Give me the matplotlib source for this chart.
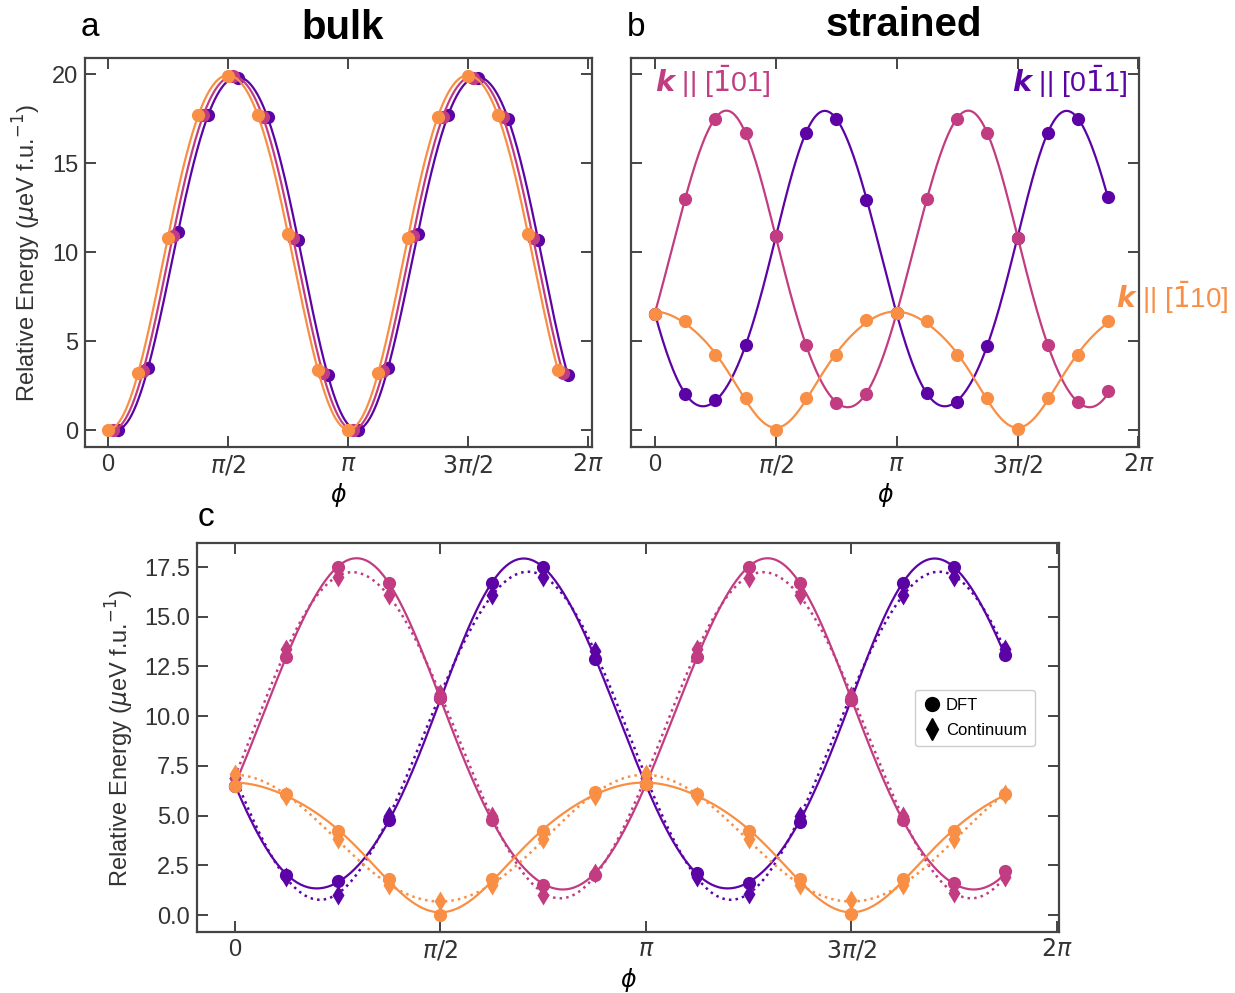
import numpy as np
import matplotlib
matplotlib.use("Agg")
import matplotlib.pyplot as plt
from matplotlib.lines import Line2D

plt.rcParams['font.family'] = ['Liberation Sans', 'DejaVu Sans']
plt.rcParams['mathtext.fontset'] = 'dejavusans'

PURPLE = '#5c03a5'
MAGENTA = '#c23c82'
ORANGE = '#f88f45'

# ---- panel a: bulk (angles in degrees)
phi_a_orange = [0, 22.5, 45, 67.5, 90, 112.5, 135, 157.5, 180, 202.5, 225, 247.5, 270, 292.5, 315, 337.5]
phi_a_magenta = [3.75, 26.25, 48.75, 71.25, 93.75, 116.25, 138.75, 161.25, 183.75, 206.25, 228.75, 251.25,
                 273.75, 296.25, 318.75, 341.25]
phi_a_purple = [7.5, 30, 52.5, 75, 97.5, 120, 142.5, 165, 187.5, 210, 232.5, 255, 277.5, 300, 322.5, 345]
E_a_orange = [0.0, 3.2, 10.8, 17.7, 19.9, 17.7, 11.0, 3.4, 0.0, 3.2, 10.8, 17.6, 19.9, 17.7, 11.0, 3.4]
E_a_magenta = [0.0, 3.3, 10.9, 17.7, 19.9, 17.6, 10.8, 3.2, 0.0, 3.3, 10.9, 17.6, 19.8, 17.6, 10.8, 3.2]
E_a_purple = [0.0, 3.5, 11.1, 17.7, 19.8, 17.6, 10.7, 3.1, 0.0, 3.5, 11.0, 17.7, 19.8, 17.5, 10.7, 3.1]

# ---- panels b, c: strained
phi_s = [0, 22.5, 45, 67.5, 90, 112.5, 135, 157.5, 180, 202.5, 225, 247.5, 270, 292.5, 315, 337.5]
dft_purple = [6.5, 2.0, 1.7, 4.8, 10.9, 16.7, 17.5, 12.9, 6.6, 2.1, 1.6, 4.7, 10.8, 16.7, 17.5, 13.1]
dft_magenta = [6.5, 13.0, 17.5, 16.7, 10.9, 4.8, 1.5, 2.0, 6.6, 13.0, 17.5, 16.7, 10.8, 4.8, 1.6, 2.2]
dft_orange = [6.5, 6.1, 4.2, 1.8, 0.0, 1.8, 4.2, 6.2, 6.6, 6.1, 4.2, 1.8, 0.05, 1.8, 4.2, 6.1]
cont_purple = [6.9, 1.9, 1.0, 5.0, 11.1, 16.1, 17.0, 13.3, 6.9, 1.9, 1.05, 5.0, 11.0, 16.1, 17.0, 13.4]
cont_magenta = [6.9, 13.4, 17.0, 16.1, 11.1, 5.0, 1.0, 2.1, 6.9, 13.4, 16.95, 16.1, 11.0, 5.0, 1.1, 1.9]
cont_orange = [7.1, 6.0, 3.8, 1.5, 0.7, 1.5, 3.8, 6.0, 7.1, 6.0, 3.8, 1.5, 0.75, 1.5, 3.8, 6.1]


def fourier_fit(phi_deg, E, nh=3, n=400):
    # least-squares fit with even harmonics cos/sin(2m phi)
    phi = np.radians(phi_deg)
    E = np.asarray(E)

    def design(p):
        cols = [np.ones_like(p)]
        for m in range(1, nh + 1):
            cols.append(np.cos(2 * m * p))
            cols.append(np.sin(2 * m * p))
        return np.column_stack(cols)

    coef, *_ = np.linalg.lstsq(design(phi), E, rcond=None)
    pf = np.linspace(phi.min(), phi.max(), n)
    return pf, design(pf) @ coef


def style_axes(ax):
    for s in ax.spines.values():
        s.set_linewidth(1.6)
        s.set_color('#444444')
    ax.tick_params(direction='in', top=True, right=True, length=8, width=1.4,
                   color='#444444', labelsize=17, labelcolor='#333333', pad=5)
    ax.set_xticks(np.arange(5) * np.pi / 2)
    ax.set_xticklabels(['0', r'$\pi/2$', r'$\pi$', r'$3\pi/2$', r'$2\pi$'])
    ax.set_xlabel(r'$\phi$', fontsize=17, labelpad=2)


W, H = 1235, 993
fig = plt.figure(figsize=(W / 100, H / 100), dpi=100)
ax_a = fig.add_axes([85 / W, 1 - 447 / H, (592 - 85) / W, 389 / H])
ax_b = fig.add_axes([631 / W, 1 - 447 / H, (1139 - 631) / W, 389 / H])
ax_c = fig.add_axes([197 / W, 1 - 932 / H, (1059 - 197) / W, 389 / H])

ylab = r'Relative Energy ($\mu$eV f.u.$^{-1}$)'

# panel a
for ph, E, c in [(phi_a_purple, E_a_purple, PURPLE), (phi_a_magenta, E_a_magenta, MAGENTA),
                 (phi_a_orange, E_a_orange, ORANGE)]:
    pf, Ef = fourier_fit(ph, E)
    ax_a.plot(pf, Ef, color=c, lw=1.6)
    ax_a.plot(np.radians(ph), E, 'o', color=c, ms=9.5, mec='none')
ax_a.set_xlim(-0.30, 6.336)
ax_a.set_ylim(-0.95, 20.9)
ax_a.set_yticks([0, 5, 10, 15, 20])
style_axes(ax_a)
ax_a.set_ylabel(ylab, fontsize=17, color='#333333', labelpad=6)

# panel b
for E, c in [(dft_purple, PURPLE), (dft_magenta, MAGENTA), (dft_orange, ORANGE)]:
    pf, Ef = fourier_fit(phi_s, E)
    ax_b.plot(pf, Ef, color=c, lw=1.6)
    ax_b.plot(np.radians(phi_s), E, 'o', color=c, ms=9.5, mec='none')
ax_b.set_xlim(-0.31, 6.29)
ax_b.set_ylim(-0.95, 20.9)
ax_b.set_yticks([0, 5, 10, 15, 20])
style_axes(ax_b)
ax_b.set_yticklabels([])

ax_b.text(0.0, 19.55, r'$\mathbfit{k}$ || [$\bar{1}$01]', color=MAGENTA, fontsize=20.5,
          ha='left', va='center')
ax_b.text(1.955 * np.pi, 19.6, r'$\mathbfit{k}$ || [0$\bar{1}$1]', color=PURPLE, fontsize=20.5,
          ha='right', va='center')
ax_b.text(1.905 * np.pi, 7.45, r'$\mathbfit{k}$ || [$\bar{1}$10]', color=ORANGE, fontsize=20,
          ha='left', va='center', clip_on=False)

# panel c
for Ed, Ec, c in [(dft_purple, cont_purple, PURPLE), (dft_magenta, cont_magenta, MAGENTA),
                  (dft_orange, cont_orange, ORANGE)]:
    pf, Ef = fourier_fit(phi_s, Ed)
    ax_c.plot(pf, Ef, color=c, lw=1.6)
    pf, Ef = fourier_fit(phi_s, Ec)
    ax_c.plot(pf, Ef, color=c, lw=1.8, ls=':')
    ax_c.plot(np.radians(phi_s), Ec, 'd', color=c, ms=10, mec='none')
    ax_c.plot(np.radians(phi_s), Ed, 'o', color=c, ms=9.5, mec='none')
ax_c.set_xlim(-0.29, 6.30)
ax_c.set_ylim(-0.855, 18.71)
ax_c.set_yticks(np.arange(0, 17.6, 2.5))
ax_c.set_yticklabels(['%.1f' % v for v in np.arange(0, 17.6, 2.5)])
style_axes(ax_c)
ax_c.set_ylabel(ylab, fontsize=17, color='#333333', labelpad=6)

handles = [Line2D([], [], marker='o', color='k', ls='none', ms=10, label='DFT'),
           Line2D([], [], marker='d', color='k', ls='none', ms=11, label='Continuum')]
ax_c.legend(handles=handles, loc='center right', bbox_to_anchor=(0.982, 0.55), fontsize=12,
            handletextpad=0.35, handlelength=1.0, borderpad=0.5, labelspacing=0.6,
            framealpha=1, edgecolor='#cccccc')

# panel labels and titles
fig.text(90 / W, 1 - 28 / H, 'a', fontsize=24, ha='center', va='center')
fig.text(343 / W, 1 - 28 / H, 'bulk', fontsize=29, fontweight='bold', ha='center', va='center')
fig.text(636 / W, 1 - 28 / H, 'b', fontsize=24, ha='center', va='center')
fig.text(904 / W, 1 - 25 / H, 'strained', fontsize=29, fontweight='bold', ha='center', va='center')
fig.text(206 / W, 1 - 518 / H, 'c', fontsize=24, ha='center', va='center')

fig.savefig('out.png', dpi=100)
